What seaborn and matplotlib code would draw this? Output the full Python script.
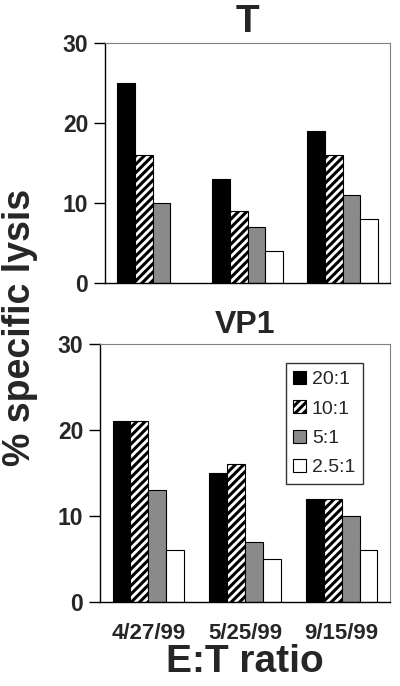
import matplotlib
matplotlib.use("Agg")
import matplotlib.pyplot as plt
import seaborn as sns
import pandas as pd
import numpy as np

dates = ["4/27/99", "5/25/99", "9/15/99"]
ratios = ["20:1", "10:1", "5:1", "2.5:1"]
t_values = {
    "20:1": [25, 13, 19],
    "10:1": [16, 9, 16],
    "5:1": [10, 7, 11],
    "2.5:1": [np.nan, 4, 8],
}
vp1_values = {
    "20:1": [21, 15, 12],
    "10:1": [21, 16, 12],
    "5:1": [13, 7, 10],
    "2.5:1": [6, 5, 6],
}
yticks = [0, 10, 20, 30]

sns.set_theme(style="white")
plt.rcParams['font.family'] = ['Liberation Sans', 'DejaVu Sans']
plt.rcParams['hatch.linewidth'] = 2.2

colors = {"20:1": "black", "10:1": "white", "5:1": "#8a8a8a", "2.5:1": "white"}
hatches = {"20:1": "", "10:1": "////", "5:1": "", "2.5:1": ""}

def make_df(vals):
    rows = []
    for r in ratios:
        for d, v in zip(dates, vals[r]):
            rows.append({"date": d, "ratio": r, "value": v})
    return pd.DataFrame(rows)

fig = plt.figure(figsize=(4.0, 6.86), dpi=100)
ax1 = fig.add_axes([105/400, 1-283/686, 285/400, 240/686])
ax2 = fig.add_axes([100/400, 1-602/686, 290/400, 258/686])

for ax, vals, title, tsize in [(ax1, t_values, "T", 28), (ax2, vp1_values, "VP1", 23)]:
    df = make_df(vals)
    sns.barplot(data=df, x="date", y="value", hue="ratio", order=dates,
                hue_order=ratios, palette=colors, width=0.74, ax=ax,
                edgecolor="black", linewidth=0.8, legend=(ax is ax2))
    for cont, r in zip(ax.containers, ratios):
        for p in cont:
            p.set_hatch(hatches[r])
            p.set_edgecolor("black")
    ax.set_ylim(0, 30)
    ax.set_yticks(yticks)
    ax.set_yticklabels([str(v) for v in yticks], fontsize=16.5, fontweight="bold")
    ax.tick_params(axis="y", direction="out", length=8, width=1, color="black", left=True, pad=4)
    ax.tick_params(axis="x", length=0)
    ax.set_xlim(-0.5, 2.5)
    ax.set_xlabel("")
    ax.set_ylabel("")
    ax.set_title(title, fontsize=tsize, fontweight="bold", pad=8)
    for s in ["left", "bottom"]:
        ax.spines[s].set_color("black")
        ax.spines[s].set_linewidth(1.0)
    for s in ["top", "right"]:
        ax.spines[s].set_color("#808080")
        ax.spines[s].set_linewidth(0.8)

ax1.set_xticklabels([])
ax2.set_xticklabels(dates, fontsize=16, fontweight="bold")
ax2.tick_params(axis="x", pad=15)
ax2.set_xlabel("E:T ratio", fontsize=28, fontweight="bold", labelpad=0)

leg = ax2.legend(loc="upper right", bbox_to_anchor=(0.907, 0.926), frameon=True,
                 fontsize=14, handlelength=0.65, handleheight=0.65, handletextpad=0.3,
                 labelspacing=0.62, borderpad=0.4, borderaxespad=0, fancybox=False,
                 edgecolor="black")
leg.get_frame().set_linewidth(1.0)
for h, r in zip(leg.legend_handles, ratios):
    h.set_hatch(hatches[r])
    h.set_edgecolor("black")

fig.text(0.05, 0.522, "% specific lysis", rotation=90, fontsize=27, fontweight="bold",
         ha="center", va="center")

fig.savefig("out.png", dpi=100)
